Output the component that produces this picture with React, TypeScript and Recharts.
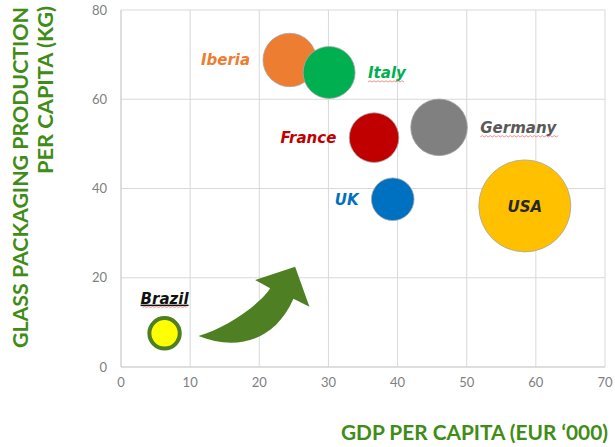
import React from 'react';
import {
  ScatterChart,
  Scatter,
  XAxis,
  YAxis,
  ZAxis,
  CartesianGrid,
  ReferenceDot,
  Customized,
} from 'recharts';

// ---- data ----
const countries = ['Brazil', 'Iberia', 'Italy', 'France', 'Germany', 'UK', 'USA'];
const gdpPerCapita = [6.3, 24.4, 30.1, 36.6, 46.0, 39.3, 58.4];
const glassPerCapita = [7.55, 68.8, 66.0, 51.4, 53.7, 37.6, 36.1];
const bubbleSize = [2.31, 7.13, 6.76, 6.15, 8.01, 4.54, 21.16];
const xTicks = [0, 10, 20, 30, 40, 50, 60, 70];
const yTicks = [0, 20, 40, 60, 80];
const xTitle = 'GDP PER CAPITA (EUR \u2018000)';
const yTitleLine1 = 'GLASS PACKAGING PRODUCTION';
const yTitleLine2 = 'PER CAPITA (KG)';
const arrowAnchor = { x: 11.2, y: 6.95 };

const rows = countries.map((name, i) => ({
  name,
  gdp: gdpPerCapita[i],
  glass: glassPerCapita[i],
  size: bubbleSize[i],
}));

// ---- styles ----
type Place = 'left' | 'right' | 'center' | 'top';
const bubbleStyle: Record<
  string,
  { fill: string; stroke: string; sw: number; color: string; place: Place; squiggle?: number; underline?: boolean }
> = {
  Brazil: { fill: '#FFFF00', stroke: '#4E7F22', sw: 4, color: '#111111', place: 'top', squiggle: 44, underline: true },
  Iberia: { fill: '#ED7D31', stroke: '#A6A6A6', sw: 0.8, color: '#ED7D31', place: 'left' },
  Italy: { fill: '#00B050', stroke: '#A6A6A6', sw: 0.8, color: '#00B050', place: 'right', squiggle: 36 },
  France: { fill: '#C00000', stroke: '#A6A6A6', sw: 0.8, color: '#C00000', place: 'left' },
  Germany: { fill: '#808080', stroke: '#A6A6A6', sw: 0.8, color: '#595959', place: 'right', squiggle: 78 },
  UK: { fill: '#0070C0', stroke: '#A6A6A6', sw: 0.8, color: '#0070C0', place: 'left' },
  USA: { fill: '#FFC000', stroke: '#A6A6A6', sw: 0.8, color: '#262626', place: 'center' },
};

const GAP = 12.5;
const labelFont = '"DejaVu Sans", sans-serif';
const titleFont = 'Lato, "DejaVu Sans", sans-serif';
const green = '#3F8C17';
const arrowGreen = '#4E7F22';

const squigglePath = (x0: number, y0: number, w: number) => {
  let d = `M ${x0} ${y0}`;
  const step = 2;
  let up = true;
  for (let x = x0 + step; x <= x0 + w; x += step) {
    d += ` L ${x} ${y0 + (up ? -1.2 : 0)}`;
    up = !up;
  }
  return d;
};

const Bubble = (props: any) => {
  const { cx, cy, width, payload } = props;
  if (cx == null || cy == null) return null;
  const s = bubbleStyle[payload.name];
  const r = width / 2;
  const outer = r + s.sw / 2;
  let tx = cx;
  let ty = cy + 5.5;
  let anchor: 'start' | 'middle' | 'end' = 'middle';
  if (s.place === 'left') {
    tx = cx - outer - GAP;
    anchor = 'end';
  } else if (s.place === 'right') {
    tx = cx + outer + GAP;
    anchor = 'start';
  } else if (s.place === 'top') {
    ty = cy - outer - GAP;
  } else {
    ty = cy + 6.5;
  }
  let sqX = tx;
  if (s.squiggle) {
    if (anchor === 'end') sqX = tx - s.squiggle;
    else if (anchor === 'middle') sqX = tx - s.squiggle / 2;
  }
  return (
    <g>
      <circle cx={cx} cy={cy} r={r} fill={s.fill} stroke={s.stroke} strokeWidth={s.sw} />
      <text
        x={tx}
        y={ty}
        textAnchor={anchor}
        fill={s.color}
        fontFamily={labelFont}
        fontWeight="bold"
        fontStyle="italic"
        fontSize={15}
        textDecoration={s.underline ? 'underline' : undefined}
      >
        {payload.name}
      </text>
      {s.squiggle ? (
        <path d={squigglePath(sqX, ty + 4, s.squiggle)} stroke="#F06060" strokeWidth={0.7} fill="none" />
      ) : null}
    </g>
  );
};

const Arrow = (props: any) => {
  const { cx, cy } = props;
  if (cx == null || cy == null) return null;
  const d =
    'M 0 0 C 35 14, 75 8, 95 -37.3 L 111 -29.3 L 96.7 -69.3 L 56.7 -56 L 71.7 -47.7 C 62 -32, 28 -8, 0 0 Z';
  return <path d={d} transform={`translate(${cx}, ${cy})`} fill={arrowGreen} />;
};

const Titles = () => (
  <g>
    <text
      x={608}
      y={440}
      textAnchor="end"
      fill={green}
      fontFamily={titleFont}
      fontWeight="bold"
      fontSize={20}
      textLength={267}
      lengthAdjust="spacingAndGlyphs"
    >
      {xTitle}
    </text>
    <text
      x={27.5}
      y={7}
      transform="rotate(-90, 27.5, 7)"
      textAnchor="end"
      fill={green}
      fontFamily={titleFont}
      fontWeight="bold"
      fontSize={21}
      textLength={341}
      lengthAdjust="spacingAndGlyphs"
    >
      {yTitleLine1}
    </text>
    <text
      x={53}
      y={6}
      transform="rotate(-90, 53, 6)"
      textAnchor="end"
      fill={green}
      fontFamily={titleFont}
      fontWeight="bold"
      fontSize={21}
      textLength={168}
      lengthAdjust="spacingAndGlyphs"
    >
      {yTitleLine2}
    </text>
  </g>
);

const maxSize = Math.max(...bubbleSize);

export default function App() {
  return (
    <div style={{ position: 'absolute', left: 0, top: 0, width: 615, height: 447, background: '#ffffff' }}>
      <ScatterChart width={615} height={447} margin={{ top: 10, right: 10, bottom: 50, left: 60 }}>
        <CartesianGrid stroke="#D9D9D9" strokeWidth={1} />
        <XAxis
          type="number"
          dataKey="gdp"
          domain={[0, 70]}
          ticks={xTicks}
          interval={0}
          height={30}
          tickLine={false}
          tickSize={0}
          tickMargin={11}
          axisLine={{ stroke: '#D0D0D0' }}
          tick={{ fill: '#808080', fontSize: 13, fontFamily: titleFont }}
        />
        <YAxis
          type="number"
          dataKey="glass"
          domain={[0, 80]}
          ticks={yTicks}
          interval={0}
          width={61}
          tickLine={false}
          tickSize={0}
          tickMargin={14}
          axisLine={{ stroke: '#D0D0D0' }}
          tick={{ fill: '#808080', fontSize: 13, fontFamily: titleFont }}
        />
        <ZAxis type="number" dataKey="size" domain={[0, maxSize]} range={[0, Math.PI * 46 * 46]} />
        <ReferenceDot x={arrowAnchor.x} y={arrowAnchor.y} r={1} shape={<Arrow />} ifOverflow="visible" />
        <Scatter data={rows} isAnimationActive={false} shape={<Bubble />} />
        <Customized component={<Titles />} />
      </ScatterChart>
    </div>
  );
}
